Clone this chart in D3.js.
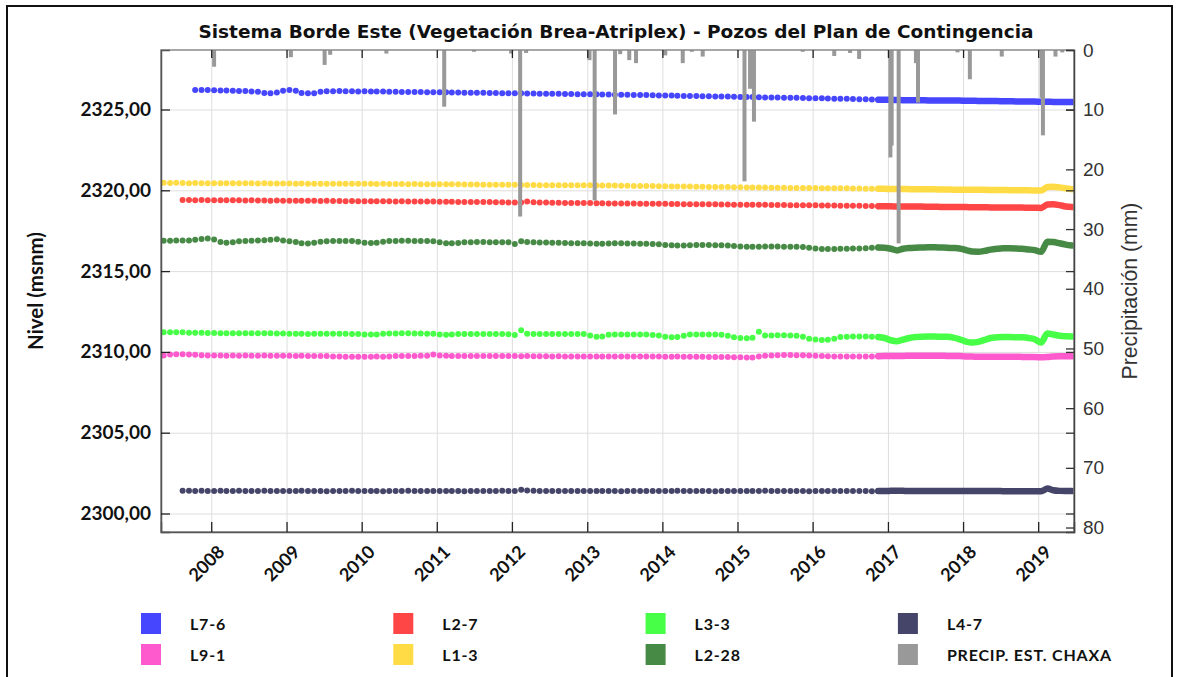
<!DOCTYPE html>
<html>
<head>
<meta charset="utf-8">
<script src="https://d3js.org/d3.v7.min.js"></script>
<style>
body {margin:0; background:white;}
svg {display:block;}
.gothic {font-family: Lato, "DejaVu Sans", sans-serif; font-weight:700;}
.wide {font-family: "DejaVu Sans", sans-serif; font-weight:700;}
</style>
</head>
<body>
<svg id="chart" width="1179" height="677"></svg>
<script>
// monthly levels (msnm), one value per month starting at the series' first month
var l76 = [ // from 2007-10
  2326.20, 2326.20, 2326.21,
  2326.19, 2326.18, 2326.17, 2326.16, 2326.15, 2326.14, 2326.12, 2326.10, 2326.02, 2326.00, 2326.05, 2326.16,
  2326.20, 2326.16, 2326.02, 2326.00, 2326.01, 2326.10, 2326.13, 2326.13, 2326.14, 2326.13, 2326.13, 2326.12,
  2326.13, 2326.12, 2326.11, 2326.11, 2326.10, 2326.10, 2326.09, 2326.09, 2326.08, 2326.08, 2326.07, 2326.07,
  2326.06, 2326.06, 2326.05, 2326.05, 2326.04, 2326.04, 2326.03, 2326.03, 2326.02, 2326.02, 2326.01, 2326.01,
  2326.00, 2326.00, 2325.99, 2325.99, 2325.98, 2325.98, 2325.97, 2325.97, 2325.96, 2325.96, 2325.95, 2325.95,
  2325.94, 2325.94, 2325.93, 2325.93, 2325.92, 2325.91, 2325.91, 2325.90, 2325.89, 2325.89, 2325.88, 2325.87,
  2325.86, 2325.86, 2325.85, 2325.84, 2325.84, 2325.83, 2325.82, 2325.82, 2325.81, 2325.80, 2325.80, 2325.79,
  2325.78, 2325.77, 2325.77, 2325.76, 2325.75, 2325.75, 2325.74, 2325.73, 2325.72, 2325.72, 2325.71, 2325.70,
  2325.69, 2325.69, 2325.68, 2325.67, 2325.67, 2325.66, 2325.65, 2325.64, 2325.63, 2325.62, 2325.61, 2325.60,
  2325.60, 2325.59, 2325.58, 2325.58, 2325.57, 2325.57, 2325.56, 2325.56, 2325.56, 2325.55, 2325.55, 2325.55,
  2325.54, 2325.54, 2325.53, 2325.53, 2325.52, 2325.52, 2325.51, 2325.51, 2325.50, 2325.50, 2325.49, 2325.49,
  2325.48, 2325.48, 2325.47, 2325.47, 2325.47, 2325.46];
var l27 = [ // from 2007-08
  2319.40, 2319.40, 2319.39, 2319.40, 2319.39,
  2319.39, 2319.38, 2319.39, 2319.38, 2319.38, 2319.37, 2319.38, 2319.37, 2319.37, 2319.36, 2319.37, 2319.36,
  2319.36, 2319.36, 2319.35, 2319.35, 2319.35, 2319.34, 2319.35, 2319.34, 2319.34, 2319.33, 2319.34, 2319.33,
  2319.33, 2319.33, 2319.32, 2319.32, 2319.32, 2319.31, 2319.32, 2319.31, 2319.31, 2319.30, 2319.30, 2319.30,
  2319.29, 2319.29, 2319.29, 2319.28, 2319.28, 2319.28, 2319.27, 2319.27, 2319.27, 2319.26, 2319.26, 2319.25,
  2319.25, 2319.24, 2319.30, 2319.26, 2319.24, 2319.24, 2319.23, 2319.23, 2319.22, 2319.22, 2319.22, 2319.21,
  2319.21, 2319.20, 2319.20, 2319.19, 2319.19, 2319.19, 2319.18, 2319.18, 2319.17, 2319.17, 2319.16, 2319.16,
  2319.16, 2319.15, 2319.15, 2319.14, 2319.14, 2319.14, 2319.13, 2319.13, 2319.13, 2319.12, 2319.12, 2319.11,
  2319.11, 2319.11, 2319.10, 2319.10, 2319.10, 2319.09, 2319.09, 2319.09, 2319.08, 2319.08, 2319.08, 2319.07,
  2319.07, 2319.06, 2319.06, 2319.06, 2319.05, 2319.05, 2319.04, 2319.04, 2319.03, 2319.03, 2319.02, 2319.01,
  2319.01, 2319.00, 2319.00, 2319.00, 2318.99, 2318.99, 2318.98, 2318.98, 2318.97, 2318.97, 2318.97, 2318.96,
  2318.96, 2318.95, 2318.95, 2318.95, 2318.94, 2318.94, 2318.94, 2318.93, 2318.93, 2318.93, 2318.92, 2318.92,
  2318.91, 2319.12, 2319.14, 2319.08, 2319.00, 2318.96];
var l33 = [ // from 2007-05
  2311.22, 2311.21, 2311.22, 2311.21, 2311.19, 2311.18, 2311.18, 2311.17,
  2311.17, 2311.16, 2311.16, 2311.16, 2311.15, 2311.15, 2311.15, 2311.15, 2311.15, 2311.15, 2311.14, 2311.14,
  2311.13, 2311.12, 2311.12, 2311.11, 2311.12, 2311.12, 2311.13, 2311.13, 2311.12, 2311.12, 2311.11, 2311.11,
  2311.08, 2311.07, 2311.08, 2311.12, 2311.14, 2311.14, 2311.15, 2311.15, 2311.14, 2311.14, 2311.13, 2311.12,
  2311.07, 2311.06, 2311.07, 2311.10, 2311.11, 2311.11, 2311.11, 2311.11, 2311.10, 2311.10, 2311.10, 2311.09,
  2311.04, 2311.34, 2311.12, 2311.11, 2311.11, 2311.10, 2311.11, 2311.11, 2311.11, 2311.10, 2311.10, 2311.10,
  2311.02, 2310.93, 2310.95, 2311.06, 2311.08, 2311.08, 2311.08, 2311.08, 2311.07, 2311.07, 2311.05, 2311.02,
  2310.94, 2310.90, 2310.92, 2311.00, 2311.07, 2311.08, 2311.08, 2311.08, 2311.07, 2311.06, 2311.00, 2310.90,
  2310.86, 2310.85, 2310.87, 2311.24, 2311.02, 2311.02, 2311.03, 2311.03, 2311.02, 2311.00, 2310.94, 2310.82,
  2310.76, 2310.74, 2310.75, 2310.82, 2310.92, 2310.94, 2310.95, 2310.95, 2310.95, 2310.94, 2310.92, 2310.86,
  2310.72, 2310.66, 2310.76, 2310.86, 2310.92, 2310.94, 2310.95, 2310.95, 2310.94, 2310.93, 2310.88, 2310.78,
  2310.64, 2310.58, 2310.62, 2310.74, 2310.86, 2310.90, 2310.92, 2310.92, 2310.91, 2310.90, 2310.86, 2310.78,
  2310.58, 2311.14, 2311.08, 2311.00, 2310.97, 2310.96];
var l47 = [ // from 2007-08
  2301.40, 2301.40, 2301.39, 2301.40, 2301.39,
  2301.39, 2301.40, 2301.39, 2301.39, 2301.40, 2301.39, 2301.39, 2301.39, 2301.40, 2301.39, 2301.39, 2301.39,
  2301.39, 2301.39, 2301.40, 2301.39, 2301.39, 2301.39, 2301.38, 2301.39, 2301.39, 2301.39, 2301.40, 2301.39,
  2301.39, 2301.39, 2301.39, 2301.38, 2301.39, 2301.39, 2301.39, 2301.40, 2301.39, 2301.39, 2301.39, 2301.39,
  2301.39, 2301.39, 2301.39, 2301.39, 2301.38, 2301.39, 2301.39, 2301.39, 2301.39, 2301.39, 2301.40, 2301.39,
  2301.39, 2301.47, 2301.42, 2301.40, 2301.39, 2301.39, 2301.39, 2301.39, 2301.39, 2301.39, 2301.39, 2301.39,
  2301.39, 2301.39, 2301.39, 2301.39, 2301.39, 2301.38, 2301.39, 2301.39, 2301.39, 2301.39, 2301.39, 2301.39,
  2301.39, 2301.39, 2301.40, 2301.39, 2301.39, 2301.39, 2301.39, 2301.39, 2301.38, 2301.39, 2301.39, 2301.39,
  2301.39, 2301.39, 2301.39, 2301.39, 2301.40, 2301.39, 2301.39, 2301.39, 2301.39, 2301.39, 2301.39, 2301.38,
  2301.39, 2301.39, 2301.39, 2301.39, 2301.39, 2301.39, 2301.39, 2301.39, 2301.39, 2301.38, 2301.39, 2301.39,
  2301.40, 2301.41, 2301.40, 2301.39, 2301.39, 2301.39, 2301.39, 2301.39, 2301.39, 2301.39, 2301.39, 2301.39,
  2301.39, 2301.39, 2301.39, 2301.39, 2301.39, 2301.39, 2301.38, 2301.38, 2301.38, 2301.38, 2301.38, 2301.38,
  2301.38, 2301.54, 2301.44, 2301.40, 2301.39, 2301.39];
var l91 = [ // from 2007-05
  2309.77, 2309.84, 2309.85, 2309.85, 2309.84, 2309.83, 2309.80, 2309.78,
  2309.77, 2309.77, 2309.76, 2309.77, 2309.76, 2309.77, 2309.76, 2309.76, 2309.77, 2309.76, 2309.76, 2309.76,
  2309.76, 2309.75, 2309.76, 2309.75, 2309.75, 2309.74, 2309.74, 2309.72, 2309.71, 2309.70, 2309.70, 2309.70,
  2309.70, 2309.70, 2309.71, 2309.70, 2309.72, 2309.74, 2309.75, 2309.75, 2309.75, 2309.76, 2309.76, 2309.84,
  2309.78, 2309.76, 2309.75, 2309.75, 2309.75, 2309.75, 2309.74, 2309.75, 2309.74, 2309.74, 2309.74, 2309.74,
  2309.74, 2309.73, 2309.74, 2309.73, 2309.73, 2309.73, 2309.72, 2309.73, 2309.72, 2309.72, 2309.72, 2309.72,
  2309.72, 2309.71, 2309.72, 2309.71, 2309.71, 2309.72, 2309.71, 2309.71, 2309.72, 2309.71, 2309.71, 2309.71,
  2309.70, 2309.70, 2309.71, 2309.70, 2309.70, 2309.70, 2309.70, 2309.69, 2309.69, 2309.68, 2309.68, 2309.67,
  2309.67, 2309.66, 2309.66, 2309.72, 2309.76, 2309.78, 2309.80, 2309.81, 2309.81, 2309.80, 2309.80, 2309.78,
  2309.76, 2309.74, 2309.73, 2309.72, 2309.72, 2309.71, 2309.71, 2309.72, 2309.71, 2309.72, 2309.73, 2309.74,
  2309.75, 2309.75, 2309.75, 2309.76, 2309.76, 2309.76, 2309.76, 2309.76, 2309.76, 2309.75, 2309.75, 2309.74,
  2309.72, 2309.71, 2309.70, 2309.70, 2309.70, 2309.70, 2309.70, 2309.70, 2309.70, 2309.69, 2309.68, 2309.68,
  2309.67, 2309.69, 2309.72, 2309.73, 2309.73, 2309.73];
var l13 = [ // from 2007-05
  2320.46, 2320.45, 2320.46, 2320.45, 2320.44, 2320.45, 2320.44, 2320.44,
  2320.44, 2320.44, 2320.43, 2320.44, 2320.43, 2320.43, 2320.43, 2320.42, 2320.43, 2320.42, 2320.42, 2320.42,
  2320.42, 2320.41, 2320.42, 2320.41, 2320.41, 2320.41, 2320.41, 2320.40, 2320.41, 2320.40, 2320.40, 2320.40,
  2320.40, 2320.40, 2320.39, 2320.40, 2320.39, 2320.39, 2320.39, 2320.38, 2320.39, 2320.38, 2320.38, 2320.38,
  2320.38, 2320.37, 2320.37, 2320.37, 2320.36, 2320.36, 2320.36, 2320.35, 2320.35, 2320.35, 2320.34, 2320.34,
  2320.34, 2320.33, 2320.33, 2320.33, 2320.32, 2320.32, 2320.32, 2320.31, 2320.31, 2320.31, 2320.31, 2320.31,
  2320.31, 2320.30, 2320.30, 2320.29, 2320.29, 2320.28, 2320.28, 2320.27, 2320.27, 2320.26, 2320.26, 2320.25,
  2320.25, 2320.24, 2320.24, 2320.23, 2320.23, 2320.22, 2320.22, 2320.21, 2320.21, 2320.20, 2320.20, 2320.19,
  2320.19, 2320.18, 2320.18, 2320.17, 2320.17, 2320.16, 2320.16, 2320.16, 2320.15, 2320.15, 2320.15, 2320.14,
  2320.14, 2320.13, 2320.13, 2320.13, 2320.12, 2320.12, 2320.11, 2320.11, 2320.10, 2320.10, 2320.09, 2320.09,
  2320.08, 2320.08, 2320.08, 2320.07, 2320.07, 2320.06, 2320.06, 2320.06, 2320.05, 2320.05, 2320.04, 2320.04,
  2320.04, 2320.03, 2320.03, 2320.03, 2320.02, 2320.02, 2320.02, 2320.01, 2320.01, 2320.00, 2320.00, 2319.99,
  2319.98, 2320.20, 2320.22, 2320.18, 2320.12, 2320.07];
var l228 = [ // from 2007-05
  2316.88, 2316.88, 2316.89, 2316.89, 2316.90, 2316.94, 2316.99, 2317.02,
  2316.96, 2316.80, 2316.75, 2316.78, 2316.84, 2316.86, 2316.88, 2316.90, 2316.91, 2316.94, 2316.97, 2316.90,
  2316.84, 2316.80, 2316.72, 2316.71, 2316.75, 2316.82, 2316.84, 2316.86, 2316.87, 2316.87, 2316.86, 2316.82,
  2316.76, 2316.74, 2316.76, 2316.82, 2316.86, 2316.87, 2316.88, 2316.88, 2316.87, 2316.87, 2316.86, 2316.84,
  2316.78, 2316.73, 2316.72, 2316.74, 2316.78, 2316.79, 2316.80, 2316.80, 2316.79, 2316.79, 2316.79, 2316.78,
  2316.68, 2316.84, 2316.80, 2316.78, 2316.77, 2316.77, 2316.76, 2316.75, 2316.74, 2316.73, 2316.72, 2316.72,
  2316.71, 2316.70, 2316.70, 2316.71, 2316.72, 2316.72, 2316.71, 2316.71, 2316.70, 2316.69, 2316.68, 2316.66,
  2316.62, 2316.60, 2316.59, 2316.59, 2316.60, 2316.61, 2316.61, 2316.61, 2316.60, 2316.60, 2316.58, 2316.55,
  2316.52, 2316.50, 2316.50, 2316.51, 2316.52, 2316.52, 2316.52, 2316.51, 2316.51, 2316.50, 2316.49, 2316.45,
  2316.40, 2316.37, 2316.36, 2316.37, 2316.38, 2316.39, 2316.40, 2316.40, 2316.41, 2316.44, 2316.46, 2316.45,
  2316.38, 2316.28, 2316.38, 2316.43, 2316.45, 2316.46, 2316.47, 2316.47, 2316.46, 2316.45, 2316.43, 2316.40,
  2316.30, 2316.21, 2316.20, 2316.25, 2316.33, 2316.38, 2316.41, 2316.41, 2316.40, 2316.38, 2316.34, 2316.30,
  2316.19, 2316.82, 2316.80, 2316.72, 2316.64, 2316.58];

var wellNames  = ["L7-6", "L2-7", "L3-3", "L4-7", "L9-1", "L1-3", "L2-28"];
var wellStarts = ["2007-10", "2007-08", "2007-05", "2007-08", "2007-05", "2007-05", "2007-05"];
var wellValues = [l76, l27, l33, l47, l91, l13, l228];
var wellColors = ["#4646ff", "#ff4646", "#46ff46", "#45456a", "#ff5acd", "#ffdc46", "#468a46"];
var denseFrom  = "2016-12";   // daily logger data from here on (drawn as a thick trace)

// precipitation at Chaxa station (mm)
var rainDates = ["2008-01-15", "2009-01-22", "2009-07-05", "2009-08-01", "2010-05-01", "2011-02-06", "2011-07-01",
  "2011-12-28", "2012-02-10", "2012-03-10", "2013-01-12", "2013-02-06", "2013-05-16", "2013-06-10", "2013-07-24",
  "2013-08-26", "2014-01-15", "2014-04-10", "2014-05-24", "2014-07-16", "2015-02-04", "2015-03-03", "2015-03-22",
  "2015-11-14", "2016-04-15", "2016-07-01", "2016-08-14", "2017-01-13", "2017-01-19", "2017-02-22", "2017-05-17",
  "2017-05-27", "2017-12-05", "2018-02-03", "2018-07-08", "2019-01-18", "2019-01-24", "2019-03-26", "2019-04-28"];
var rainMm = [2.8, 1.2, 2.5, 0.8, 0.6, 9.5, 0.3,
  0.6, 27.9, 0.5, 1.7, 25.2, 10.8, 0.7, 1.7,
  2.2, 0.9, 2.2, 0.3, 1.1, 22, 6.5, 12,
  0.3, 1, 0.5, 1.5, 18, 16, 32.4, 2.2,
  8.8, 0.4, 4.9, 1.1, 8, 14.3, 1.1, 0.4];

var levelTicks = [2300, 2305, 2310, 2315, 2320, 2325];
var rainTicks = [0, 10, 20, 30, 40, 50, 60, 70, 80];
var legendNames = ["L7-6", "L2-7", "L3-3", "L4-7", "L9-1", "L1-3", "L2-28", "PRECIP. EST. CHAXA"];
var legendColors = ["#4646ff", "#ff4646", "#46ff46", "#45456a", "#ff5acd", "#ffdc46", "#468a46", "#999999"];

var pLeft = 161, pRight = 1074, pTop = 50, pBottom = 532;
var parseDay = d3.timeParse("%Y-%m-%d");
var parseMonth = d3.timeParse("%Y-%m");

var svg = d3.select("#chart");

var x = d3.scaleTime().domain([parseDay("2007-05-02"), parseDay("2019-06-24")]).range([pLeft, pRight]);
var yL = d3.scaleLinear().domain([2298.855, 2328.682]).range([pBottom, pTop]);
var yR = d3.scaleLinear().domain([0, 80.75]).range([pTop, pBottom]);
var fmt = d3.formatLocale({decimal: ",", thousands: ".", grouping: [3], currency: ["$", ""]}).format(".2f");

// shrink or grow a text's font so that it spans the given width
function fitWidth(sel, w) {
  var size = +sel.attr("font-size");
  var len = sel.node().getComputedTextLength();
  sel.attr("font-size", (size * w / len).toFixed(2));
}

// outer frame
svg.append("rect").attr("x", 7).attr("y", 6).attr("width", 1165).attr("height", 700)
  .attr("fill", "none").attr("stroke", "#111").attr("stroke-width", 2);

svg.append("defs").append("clipPath").attr("id", "plotclip")
  .append("rect").attr("x", pLeft).attr("y", pTop).attr("width", pRight - pLeft).attr("height", pBottom - pTop);

// grid
svg.append("g").attr("transform", "translate(0," + pBottom + ")")
  .call(d3.axisBottom(x).ticks(d3.timeYear.every(1)).tickSize(-(pBottom - pTop)).tickFormat(""))
  .call(g => g.select(".domain").remove())
  .selectAll("line").attr("stroke", "#dedede");
svg.append("g").attr("transform", "translate(" + pLeft + ",0)")
  .call(d3.axisLeft(yL).tickValues(levelTicks).tickSize(-(pRight - pLeft)).tickFormat(""))
  .call(g => g.select(".domain").remove())
  .selectAll("line").attr("stroke", "#dedede");

// wells
var plot = svg.append("g").attr("clip-path", "url(#plotclip)");
var cut = parseMonth(denseFrom);
wellNames.forEach(function(name, i) {
  var start = parseMonth(wellStarts[i]);
  var pts = wellValues[i].map(function(v, k) {
    return {date: d3.timeDay.offset(d3.timeMonth.offset(start, k), 14), value: v};
  });
  var dotPts = pts.filter(d => d.date < cut);
  var densePts = pts.filter(d => d.date >= d3.timeMonth.offset(cut, -1));
  var line = d3.line().x(d => x(d.date)).y(d => yL(d.value)).curve(d3.curveMonotoneX);
  plot.append("path").datum(densePts).attr("d", line)
    .attr("fill", "none").attr("stroke", wellColors[i]).attr("stroke-width", 6.5)
    .attr("stroke-linecap", "round").attr("stroke-linejoin", "round");
  plot.append("g").selectAll("circle").data(dotPts).enter().append("circle")
    .attr("cx", d => x(d.date)).attr("cy", d => yL(d.value)).attr("r", 3)
    .attr("fill", wellColors[i]);
});

// precipitation bars hanging from the top
var rain = rainDates.map((d, i) => ({date: parseDay(d), mm: rainMm[i]}));
plot.append("g").selectAll("rect").data(rain).enter().append("rect")
  .attr("x", d => x(d.date) - 2).attr("width", 4)
  .attr("y", yR(0)).attr("height", d => yR(d.mm) - yR(0))
  .attr("fill", "#999999");

// plot frame
svg.append("rect").attr("x", pLeft).attr("y", pTop).attr("width", pRight - pLeft).attr("height", pBottom - pTop)
  .attr("fill", "none").attr("stroke", "#8a8a8a").attr("stroke-width", 1.5);

// left axis
var gl = svg.append("g").attr("transform", "translate(" + pLeft + ",0)")
  .call(d3.axisLeft(yL).tickValues(levelTicks).tickSize(-9).tickPadding(10).tickFormat(fmt));
gl.select(".domain").attr("stroke", "#555").attr("stroke-width", 1.5);
gl.selectAll("line").attr("stroke", "#222").attr("stroke-width", 1.3);
gl.selectAll("text").attr("class", "gothic").attr("font-size", 19).attr("fill", "#111");

// bottom axis
var gb = svg.append("g").attr("transform", "translate(0," + pBottom + ")")
  .call(d3.axisBottom(x).ticks(d3.timeYear.every(1)).tickSize(-10).tickFormat(d3.timeFormat("%Y")));
gb.select(".domain").attr("stroke", "#555").attr("stroke-width", 1.5);
gb.selectAll("line").attr("stroke", "#222").attr("stroke-width", 1.3);
gb.selectAll("text").attr("class", "gothic").attr("font-size", 18).attr("fill", "#111")
  .attr("text-anchor", "end").attr("dy", null).attr("y", 0)
  .attr("transform", "translate(14,21) rotate(-45)");

// top mirror ticks
var gt = svg.append("g").attr("transform", "translate(0," + pTop + ")")
  .call(d3.axisTop(x).ticks(d3.timeYear.every(1)).tickSize(-8).tickFormat(""));
gt.select(".domain").remove();
gt.selectAll("line").attr("stroke", "#222").attr("stroke-width", 1.3);

// right axis (precipitation)
var gr = svg.append("g").attr("transform", "translate(" + pRight + ",0)")
  .call(d3.axisRight(yR).tickValues(rainTicks).tickSize(-8).tickPadding(9));
gr.select(".domain").attr("stroke", "#444").attr("stroke-width", 1.5);
gr.selectAll("line").attr("stroke", "#333").attr("stroke-width", 1.3);
gr.selectAll("text").attr("font-family", "'Liberation Sans', Arial, sans-serif")
  .attr("font-size", 19).attr("fill", "#333");
var gm = svg.append("g").attr("transform", "translate(" + pRight + ",0)")
  .call(d3.axisRight(yL).tickValues(levelTicks).tickSize(-8).tickFormat(""));
gm.select(".domain").remove();
gm.selectAll("line").attr("stroke", "#333").attr("stroke-width", 1.3);

// titles
var title = svg.append("text").attr("class", "wide").attr("x", 616).attr("y", 38)
  .attr("text-anchor", "middle").attr("font-size", 17).attr("fill", "#111")
  .text("Sistema Borde Este (Vegetación Brea-Atriplex) - Pozos del Plan de Contingencia");
fitWidth(title, 835);
var ylab = svg.append("text").attr("class", "gothic")
  .attr("transform", "translate(43,291) rotate(-90)")
  .attr("text-anchor", "middle").attr("font-size", 19).attr("fill", "#111")
  .text("Nivel (msnm)");
fitWidth(ylab, 118);
var rlab = svg.append("text")
  .attr("transform", "translate(1137,291) rotate(-90)")
  .attr("text-anchor", "middle").attr("font-family", "'Liberation Sans', Arial, sans-serif")
  .attr("font-size", 21).attr("fill", "#333")
  .text("Precipitación (mm)");
fitWidth(rlab, 177);

// legend
var lg = svg.append("g").selectAll("g").data(legendNames).enter().append("g")
  .attr("transform", (d, i) => "translate(" + (141 + (i % 4) * 252.3) + "," + (613 + Math.floor(i / 4) * 31) + ")");
lg.append("rect").attr("width", 20).attr("height", 21).attr("fill", (d, i) => legendColors[i]);
lg.append("text").attr("class", "gothic").attr("x", 49).attr("y", 16.5)
  .attr("font-size", 16).attr("letter-spacing", 0.8).attr("fill", "#111").text(d => d);
</script>
</body>
</html>
